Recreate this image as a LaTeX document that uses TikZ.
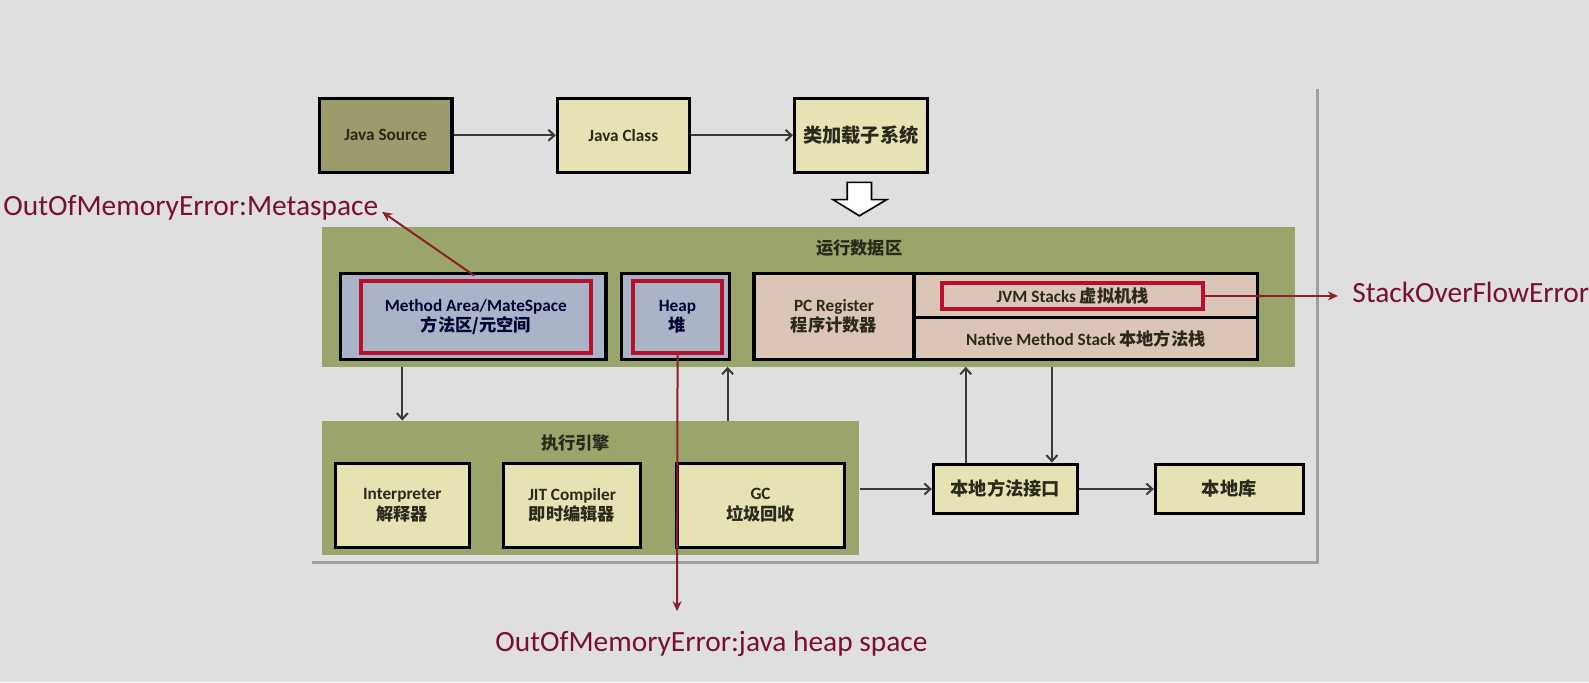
\documentclass[tikz,border=0pt]{standalone}
\usepackage{fontspec}
\setmainfont{Carlito}
\newfontfamily\cjk{Noto Sans CJK SC}
\usetikzlibrary{arrows.meta}
\definecolor{bg}{HTML}{DFDFDF}
\definecolor{olive}{HTML}{9C9B6B}
\definecolor{pale}{HTML}{E6E2B3}
\definecolor{grn}{HTML}{99A56A}
\definecolor{bluegray}{HTML}{A9B5C7}
\definecolor{pinkc}{HTML}{DBC5B6}
\definecolor{redbox}{HTML}{B8102C}
\definecolor{redtxt}{HTML}{7A1030}
\definecolor{redline}{HTML}{8E1F2A}
\definecolor{txt}{HTML}{2A2A1C}
\definecolor{arr}{HTML}{3A3A3A}
\begin{document}
\begin{tikzpicture}[x=0.5pt,y=-0.5pt,scale=1.0134,every node/.append style={transform shape},
  box/.style={draw=black,line width=1.6pt,inner sep=0pt,align=center,text=txt,
    font=\fontsize{8.5}{10}\selectfont\bfseries},
  container/.style={fill=grn,draw=none,inner sep=0pt},
  redframe/.style={draw=redbox,line width=2pt,inner sep=0pt,align=center,text=txt,
    font=\fontsize{8.5}{10}\selectfont\bfseries},
  title/.style={text=txt,font=\fontsize{8.5}{10}\selectfont\bfseries\cjk,inner sep=0pt},
  flow/.style={draw=arr,line width=1pt,-{Straight Barb[length=3pt,width=5.5pt]}},
  errarrow/.style={draw=redline,line width=1pt,-{Stealth[length=5pt,width=4.5pt]}},
  errlabel/.style={text=redtxt,font=\fontsize{14.5}{16}\selectfont,inner sep=0pt}
]
\useasboundingbox (0,0) rectangle (1568,673);
\fill[bg] (0,0) rectangle (1568,673);
% slide panel shadow edges
\draw[gray!75,line width=1.8pt] (1300,88) -- (1300,557);
\draw[gray!75,line width=1.8pt] (308,555) -- (1300,555);

% top row
\node[box,fill=olive,minimum width=65.5pt,minimum height=36.5pt] (jsrc) at (380.5,133.5) {Java Source};
\node[box,fill=pale,minimum width=65pt,minimum height=36.5pt] (jcls) at (615,133.5) {Java Class};
\node[box,fill=pale,minimum width=65.5pt,minimum height=36.5pt,font=\fontsize{9.5}{11}\selectfont\bfseries\cjk] (cls) at (849.5,133.5) {类加载子系统};
\draw[flow] (jsrc.east) -- (jcls.west);
\draw[flow] (jcls.east) -- (cls.west);

% hollow block arrow
\draw[black,line width=0.8pt,fill=white] (836,180) -- (860,180) -- (860,197) -- (875,197) -- (848,213) -- (822,197) -- (836,197) -- cycle;

% runtime data area
\node[container,minimum width=480pt,minimum height=69pt] (rda) at (798,293) {};
\node[title] (rdat) at (848,245) {运行数据区};
\node[box,fill=bluegray,minimum width=131pt,minimum height=42.5pt] (ma) at (467,312.5) {};
\node[redframe,minimum width=113.5pt,minimum height=35.5pt,text=black!80!blue] (mared) at (469.5,312.5) {Method Area/MateSpace\\{\cjk 方法区/元空间}};
\node[box,fill=bluegray,minimum width=53.5pt,minimum height=42.5pt] (heap) at (666.5,312.5) {};
\node[redframe,minimum width=43.5pt,minimum height=35.5pt,text=black!80!blue] (heapred) at (668.5,312.5) {Heap\\{\cjk 堆}};
\node[box,fill=pinkc,minimum width=79pt,minimum height=42.5pt] (pc) at (823,312.5) {PC Register\\{\cjk 程序计数器}};
\node[box,fill=pinkc,minimum width=169.5pt,minimum height=21.5pt] (jvms) at (1071.5,291.5) {};
\node[box,fill=pinkc,minimum width=169.5pt,minimum height=21pt] (nms) at (1071.5,334) {Native Method Stack {\cjk 本地方法栈}};
\node[redframe,minimum width=128.5pt,minimum height=13pt] (jvmred) at (1058.5,292) {JVM Stacks {\cjk 虚拟机栈}};

% execution engine
\node[container,minimum width=265pt,minimum height=66.5pt] (ee) at (583,481.5) {};
\node[title] (eet) at (568,437) {执行引擎};
\node[box,fill=pale,minimum width=66pt,minimum height=41.5pt] (interp) at (397,498.5) {Interpreter\\{\cjk 解释器}};
\node[box,fill=pale,minimum width=67.5pt,minimum height=41.5pt] (jit) at (564.5,498.5) {JIT Compiler\\{\cjk 即时编辑器}};
\node[box,fill=pale,minimum width=82.5pt,minimum height=41.5pt] (gc) at (750.5,498.5) {GC\\{\cjk 垃圾回收}};

% native interface & library
\node[box,fill=pale,minimum width=71pt,minimum height=24.5pt,font=\fontsize{9}{10}\selectfont\bfseries\cjk] (nmi) at (992,482.5) {本地方法接口};
\node[box,fill=pale,minimum width=73pt,minimum height=24.5pt,font=\fontsize{9}{10}\selectfont\bfseries\cjk] (nlib) at (1213,482.5) {本地库};

% connectors
\draw[flow] (ee.east |- nmi.west) -- (nmi.west);
\draw[flow] (nmi.east) -- (nlib.west);
\draw[flow] (397,362) -- (397,415);
\draw[flow] (718,415) -- (718,362);
\draw[flow] (nmi.north -| 953,0) -- (953,362);
\draw[flow] (1038,362) -- (nmi.north -| 1038,0);

% error labels
\node[errlabel,anchor=west] (metaerr) at (3,205) {OutOfMemoryError:Metaspace};
\node[errlabel,anchor=west] (soerr) at (1334,289) {StackOverFlowError};
\node[errlabel] (heaperr) at (702,635) {OutOfMemoryError:java heap space};
\coordinate (heaptip) at (668,603);
\coordinate (metasrc) at (468,272);
\coordinate (metatip) at (377,209);
\coordinate (sotip) at (1320,292);
\draw[errarrow] (metasrc) -- (metatip);
\draw[errarrow] (jvmred.east) -- (sotip);
\draw[errarrow] (heapred.south) -- (heaptip);
\end{tikzpicture}
\end{document}
